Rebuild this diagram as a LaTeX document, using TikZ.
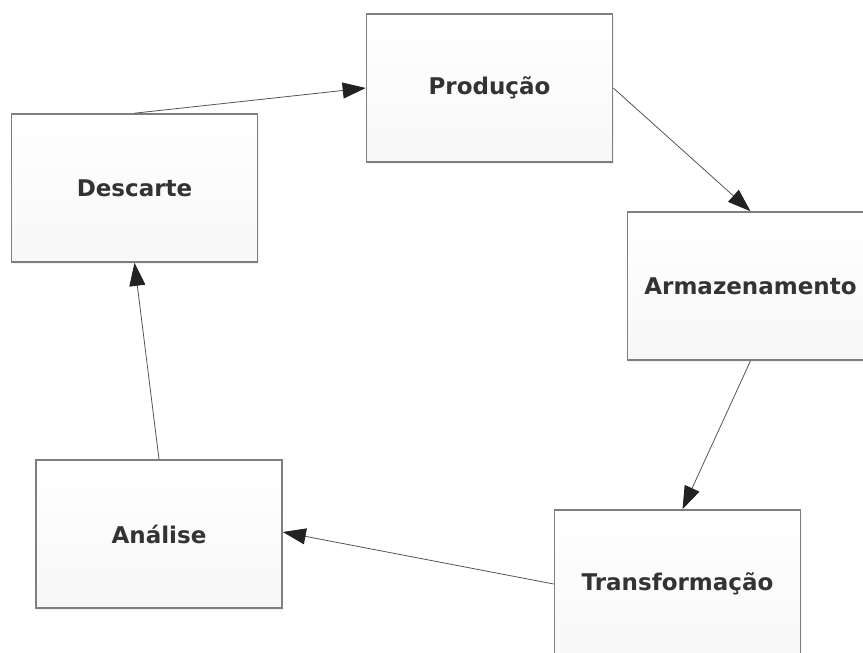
\documentclass[tikz,border=0pt]{standalone}
\usepackage{fontspec}
\setmainfont{DejaVu Sans}
\usetikzlibrary{arrows.meta,shadows}
\definecolor{boxline}{HTML}{7F7F7F}
\definecolor{txt}{HTML}{333333}
\definecolor{arr}{HTML}{555555}
\definecolor{tip}{HTML}{222222}
\begin{document}
\begin{tikzpicture}[x=1pt,y=-1pt,
  stagebox/.style={draw=boxline, line width=1.6pt, top color=white, bottom color=black!3,
    minimum width=246pt, minimum height=148pt, inner sep=0pt,
    font=\fontsize{23}{27}\selectfont\bfseries, text=txt,
    drop shadow={opacity=0.10, shadow xshift=1pt, shadow yshift=-2pt}},
  flow/.style={draw=arr, line width=0.8pt, -{Triangle[length=23pt,width=16pt,color=tip,fill=tip]}}]
\useasboundingbox (0,0) rectangle (863,653);
\clip (0,0) rectangle (863,653);
\fill[white] (0,0) rectangle (863,653);
\node[stagebox] (prod) at (489.5,88) {Produção};
\node[stagebox] (desc) at (134.5,188) {Descarte};
\node[stagebox] (arm) at (750.5,286) {Armazenamento};
\node[stagebox] (anal) at (159,534) {Análise};
\node[stagebox] (trans) at (677.5,584) {Transformação};
\draw[flow] (desc.north) -- (prod.west);
\draw[flow] (prod.east) -- (arm.north);
\draw[flow] (arm.south) -- ([xshift=5pt]trans.north);
\draw[flow] (trans.west) -- ([yshift=2pt]anal.east);
\draw[flow] (anal.north) -- (desc.south);
\end{tikzpicture}
\end{document}
